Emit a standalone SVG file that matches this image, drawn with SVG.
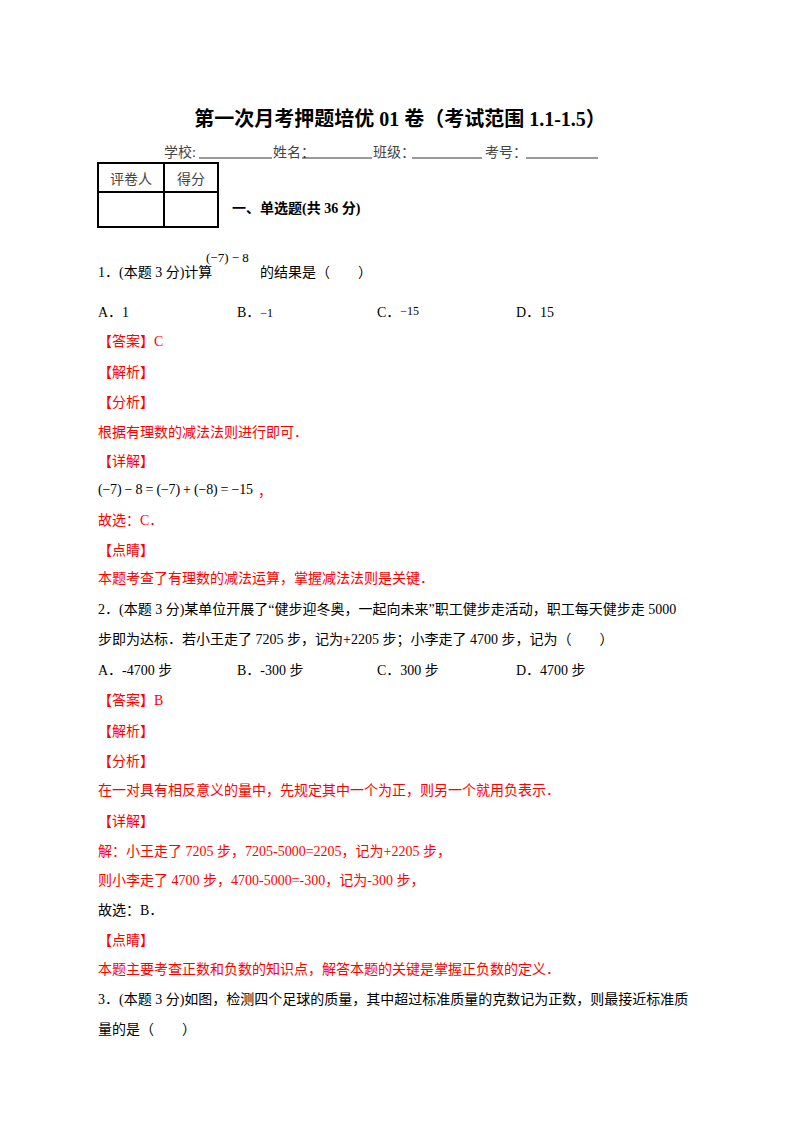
<svg xmlns="http://www.w3.org/2000/svg" width="800" height="1132" viewBox="0 0 800 1132">
<style>
text{font-family:"Liberation Serif","Noto Sans CJK SC",serif;font-size:14px;fill:#000}
.r{fill:#ff0000}
.b{font-weight:bold}
.g{fill:#444}
line{stroke:#000}
</style>
<rect width="800" height="1132" fill="#fff"/>
<text x="400" y="126" text-anchor="middle" class="b" style="font-size:20px">第一次月考押题培优 01 卷（考试范围 1.1-1.5）</text>
<text x="164" y="157" class="g">学校:</text><line x1="199" y1="158" x2="272" y2="158" stroke-width="0.8"/>
<text x="273" y="157" class="g">姓名：</text><line x1="302" y1="158" x2="372" y2="158" stroke-width="0.8"/>
<text x="373" y="157" class="g">班级：</text><line x1="412" y1="158" x2="482" y2="158" stroke-width="0.8"/>
<text x="485" y="157" class="g">考号：</text><line x1="526" y1="158" x2="598" y2="158" stroke-width="0.8"/>
<g stroke="#000" stroke-width="2" fill="none"><rect x="98" y="163" width="120" height="64"/><line x1="164" y1="163" x2="164" y2="227"/><line x1="98" y1="192" x2="218" y2="192"/></g>
<text x="131" y="184" text-anchor="middle" class="g">评卷人</text><text x="191" y="184" text-anchor="middle" class="g">得分</text>
<text x="232" y="213" class="b">一、单选题(共 36 分)</text>
<text x="98" y="277">1．(本题 3 分)计算</text>
<text x="206" y="262" style="font-size:13px">(−7) − 8</text>
<text x="260" y="277">的结果是（　　）</text>
<text x="98" y="317">A．1</text><text x="237" y="317">B．<tspan style="font-size:12px">−1</tspan></text><text x="377" y="317">C．<tspan style="font-size:12px" dy="-2">−15</tspan></text><text x="516" y="317">D．15</text>
<text x="98" y="346" class="r">【答案】C</text>
<text x="98" y="377" class="r">【解析】</text>
<text x="98" y="407" class="r">【分析】</text>
<text x="98" y="437" class="r">根据有理数的减法法则进行即可．</text>
<text x="98" y="466" class="r">【详解】</text>
<text x="98" y="494" textLength="155" lengthAdjust="spacing">(−7) − 8 = (−7) + (−8) = −15</text><text x="258" y="496" class="r">，</text>
<text x="98" y="525" class="r">故选：C．</text>
<text x="98" y="555" class="r">【点睛】</text>
<text x="98" y="583" class="r">本题考查了有理数的减法运算，掌握减法法则是关键．</text>
<text x="98" y="614">2．(本题 3 分)某单位开展了“健步迎冬奥，一起向未来”职工健步走活动，职工每天健步走 5000</text>
<text x="98" y="644">步即为达标．若小王走了 7205 步，记为+2205 步；小李走了 4700 步，记为（　　）</text>
<text x="98" y="675">A．-4700 步</text><text x="237" y="675">B．-300 步</text><text x="377" y="675">C．300 步</text><text x="516" y="675">D．4700 步</text>
<text x="98" y="705" class="r">【答案】B</text>
<text x="98" y="736" class="r">【解析】</text>
<text x="98" y="766" class="r">【分析】</text>
<text x="98" y="795" class="r">在一对具有相反意义的量中，先规定其中一个为正，则另一个就用负表示．</text>
<text x="98" y="826" class="r">【详解】</text>
<text x="98" y="856" class="r">解：小王走了 7205 步，7205-5000=2205，记为+2205 步，</text>
<text x="98" y="885" class="r">则小李走了 4700 步，4700-5000=-300，记为-300 步，</text>
<text x="98" y="915">故选：B．</text>
<text x="98" y="945" class="r">【点睛】</text>
<text x="98" y="974" class="r">本题主要考查正数和负数的知识点，解答本题的关键是掌握正负数的定义．</text>
<text x="98" y="1004">3．(本题 3 分)如图，检测四个足球的质量，其中超过标准质量的克数记为正数，则最接近标准质</text>
<text x="98" y="1034">量的是（　　）</text>
</svg>
